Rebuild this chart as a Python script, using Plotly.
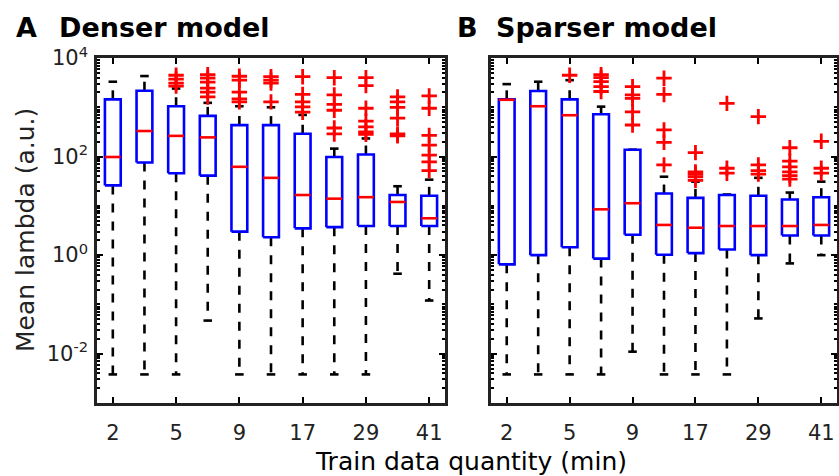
import plotly.graph_objects as go

W, H = 839, 476

# ---------------- data ----------------
tick_labels = ["2", "5", "9", "17", "29", "41"]
n_boxes = 11

# Panel A: Denser model
q1_A = [26, 76, 46, 41, 3.0, 2.3, 3.5, 3.7, 3.9, 3.9, 3.9]
med_A = [98, 330, 263, 245, 62, 37, 16.6, 14, 15, 12, 5.6]
q3_A = [1450, 2170, 1050, 670, 435, 435, 290, 98, 110, 16.6, 16]
lo_A = [0.0038, 0.0038, 0.0038, 0.047, 0.0038, 0.0038, 0.0038, 0.0038, 0.0038, 0.42, 0.12]
hi_A = [3300, 4300, 2400, 1230, 1050, 1000, 700, 145, 233, 25, 34]
out_A = [
    [], [],
    [4470, 3715, 3090, 2690],
    [4570, 3890, 3240, 2455, 2040, 1620],
    [4266, 3550, 2040, 1480, 1290],
    [4170, 3550, 3090, 1290],
    [4170, 1820, 1290, 1020, 795],
    [3980, 1780, 1150, 870, 380, 288],
    [3980, 2750, 955, 525, 400, 316, 282],
    [1620, 1290, 1000, 600, 288, 263],
    [1700, 955, 269, 170, 107, 78, 52],
]

# Panel B: Sparser model
q1_B = [0.65, 1.0, 1.45, 0.85, 2.6, 1.02, 1.1, 1.3, 1.0, 2.5, 2.5]
med_B = [1420, 1050, 690, 8.5, 11.3, 4.1, 3.6, 3.9, 3.9, 3.9, 4.1]
q3_B = [1450, 2140, 1450, 720, 138, 17.8, 14.5, 16.6, 16, 13.5, 15]
lo_B = [0.0038, 0.0038, 0.0038, 0.0038, 0.011, 0.0038, 0.0038, 0.0038, 0.052, 0.68, 1.0]
hi_B = [2950, 3300, 3550, 1030, 138, 39, 31, 17, 37, 18.6, 31]
out_B = [
    [], [],
    [4470],
    [4570, 3980, 3310, 2630, 2090],
    [2630, 1780, 1510, 810, 437],
    [3890, 1820, 347, 195, 68],
    [120, 49, 44, 39, 33],
    [1200, 58, 46],
    [645, 68, 52, 44],
    [151, 81, 62, 49, 41, 35],
    [204, 58, 46],
]

# ---------------- style ----------------
FONT = "DejaVu Sans"
BOX_HW = 0.25
CAP_HW = 0.135


def px_x(p):
    return p / W


def px_y(p):
    return 1 - p / H


fig = go.Figure()


def add_panel(q1, med, q3, lo, hi, outs, xa, ya):
    wx, wy, cx, cy, bx, by, mx, my, ox, oy = ([] for _ in range(10))
    for i in range(n_boxes):
        x = i + 1
        wx += [x, x, None, x, x, None]
        wy += [q3[i], hi[i], None, q1[i], lo[i], None]
        cx += [x - CAP_HW, x + CAP_HW, None, x - CAP_HW, x + CAP_HW, None]
        cy += [hi[i], hi[i], None, lo[i], lo[i], None]
        bx += [x - BOX_HW, x + BOX_HW, x + BOX_HW, x - BOX_HW, x - BOX_HW, None]
        by += [q1[i], q1[i], q3[i], q3[i], q1[i], None]
        mx += [x - BOX_HW, x + BOX_HW, None]
        my += [med[i], med[i], None]
        for v in outs[i]:
            ox.append(x)
            oy.append(v)
    common = dict(xaxis=xa, yaxis=ya, showlegend=False, hoverinfo="skip")
    fig.add_trace(go.Scatter(x=wx, y=wy, mode="lines",
                             line=dict(color="black", width=2.6, dash="9px,9px"), **common))
    fig.add_trace(go.Scatter(x=cx, y=cy, mode="lines",
                             line=dict(color="black", width=2.6), **common))
    fig.add_trace(go.Scatter(x=bx, y=by, mode="lines",
                             line=dict(color="#0000ff", width=2.6), **common))
    fig.add_trace(go.Scatter(x=mx, y=my, mode="lines",
                             line=dict(color="#ff0000", width=2.6), **common))
    fig.add_trace(go.Scatter(x=ox, y=oy, mode="markers",
                             marker=dict(symbol="cross-thin", size=11,
                                         line=dict(color="#ff0000", width=2.8)),
                             **common))


add_panel(q1_A, med_A, q3_A, lo_A, hi_A, out_A, "x", "y")
add_panel(q1_B, med_B, q3_B, lo_B, hi_B, out_B, "x2", "y2")

minor_vals = []
for e in range(-3, 5):
    for m in range(1, 10):
        v = m * 10 ** e
        if v <= 1e4:
            minor_vals.append(v)

xaxis_common = dict(
    range=[0.5, 11.5], tickmode="array",
    tickvals=[1, 3, 5, 7, 9, 11], ticktext=tick_labels,
    ticks="inside", ticklen=6, tickwidth=2, tickcolor="black",
    showline=True, linewidth=2.5, linecolor="#222", mirror="ticks",
    showgrid=False, zeroline=False, automargin=False,
    ticklabelstandoff=9,
    tickfont=dict(family=FONT, size=21, color="#222"),
)
yaxis_common = dict(
    type="log", range=[-3, 4], tickmode="array",
    tickvals=[1e-2, 1, 1e2, 1e4],
    ticktext=["10<sup>-2</sup>", "10<sup>0</sup>", "10<sup>2</sup>", "10<sup>4</sup>"],
    ticks="inside", ticklen=6, tickwidth=2, tickcolor="black",
    minor=dict(tickmode="array", tickvals=minor_vals, ticks="inside",
               ticklen=3, tickwidth=1.5, tickcolor="black", showgrid=False),
    showline=True, linewidth=2.5, linecolor="#222", mirror="ticks",
    showgrid=False, zeroline=False, automargin=False,
    ticklabelstandoff=2,
    tickfont=dict(family=FONT, size=21, color="#222"),
)

ydom = [px_y(403), px_y(58)]
fig.update_layout(
    width=W, height=H,
    margin=dict(l=0, r=0, t=0, b=0),
    paper_bgcolor="white", plot_bgcolor="white",
    xaxis=dict(domain=[px_x(97), px_x(445)], anchor="y", **xaxis_common),
    yaxis=dict(domain=ydom, anchor="x", **yaxis_common),
    xaxis2=dict(domain=[px_x(491), px_x(837)], anchor="y2", **xaxis_common),
    yaxis2=dict(domain=ydom, anchor="x2", showticklabels=False, **yaxis_common),
    font=dict(family=FONT, color="#222"),
)

ann = [
    dict(text="<b>A</b>", x=px_x(14), y=px_y(27), xanchor="left", yanchor="middle", size=27),
    dict(text="<b>Denser model</b>", x=px_x(57), y=px_y(27), xanchor="left", yanchor="middle", size=27),
    dict(text="<b>B</b>", x=px_x(455), y=px_y(27), xanchor="left", yanchor="middle", size=27),
    dict(text="<b>Sparser model</b>", x=px_x(494), y=px_y(27), xanchor="left", yanchor="middle", size=27),
    dict(text="Train data quantity (min)", x=px_x(471), y=px_y(461), xanchor="center", yanchor="middle", size=25),
]
for a in ann:
    fig.add_annotation(text=a["text"], x=a["x"], y=a["y"], xref="paper", yref="paper",
                       xanchor=a["xanchor"], yanchor=a["yanchor"], showarrow=False,
                       font=dict(family=FONT, size=a["size"], color="black"))
fig.add_annotation(text="Mean lambda (a.u.)", x=px_x(25), y=px_y(230), xref="paper", yref="paper",
                   xanchor="center", yanchor="middle", textangle=-90, showarrow=False,
                   font=dict(family=FONT, size=25, color="#222"))

fig.write_html("out.html")
